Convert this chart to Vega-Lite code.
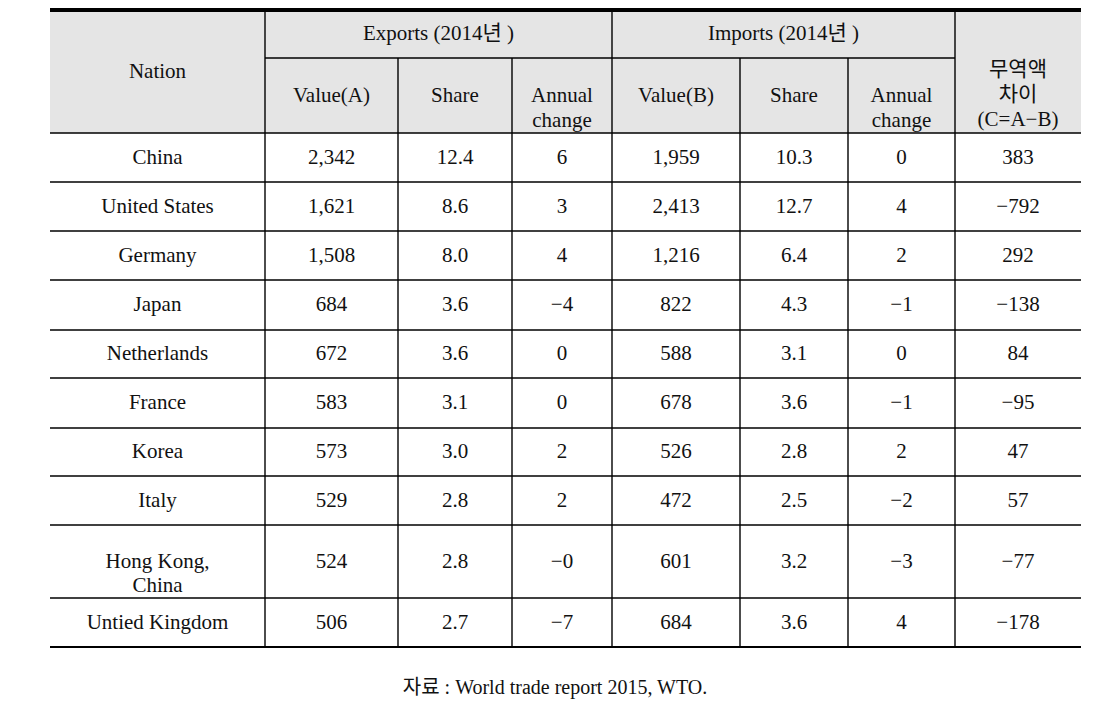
{
  "$schema": "https://vega.github.io/schema/vega-lite/v6.json",
  "width": 1110,
  "height": 715,
  "autosize": {"type": "none"},
  "padding": 0,
  "background": "white",
  "config": {
    "view": {"stroke": null},
    "axis": {"disable": true},
    "text": {"font": "Liberation Serif, Noto Sans CJK KR", "fontSize": 21, "fontWeight": "normal", "color": "#111", "align": "center", "baseline": "middle"},
    "rule": {"color": "#000", "strokeWidth": 1.4}
  },
  "data": {"values": [{}]},
  "layer": [
    {
      "mark": {"type": "rect", "fill": "#e5e5e5"},
      "encoding": {
        "x": {"datum": 0.5, "type": "quantitative", "scale": {"type": "linear", "domain": [0.5, 1, 1.5, 2, 2.5, 3, 3.5, 4, 4.5, 5, 5.5, 6, 6.5, 7, 7.5, 8, 8.5], "range": [50, 157.5, 265, 331.5, 398, 455, 512, 562, 612, 676, 740, 794, 848, 901.5, 955, 1018, 1081], "nice": false, "zero": false}},
        "x2": {"datum": 8.5},
        "y": {"datum": -1.5, "type": "quantitative", "scale": {"type": "linear", "domain": [-1.5, -1, -0.5, 0, 0.5, 1, 1.5, 2, 2.5, 3, 3.5, 4, 4.5, 5, 5.5, 6, 6.5, 7, 7.5, 8, 8.5, 9, 9.5, 10, 10.5], "range": [10, 34, 58, 95.5, 133, 157.5, 182, 206.5, 231, 255.5, 280, 305, 330, 354, 378, 403, 428, 452, 476, 500.5, 525, 561.5, 598, 622.5, 647], "nice": false, "zero": false}},
        "y2": {"datum": 0.5}
      }
    },
    {"mark": {"type": "rule", "strokeWidth": 4}, "encoding": {"x": {"datum": 0.5, "type": "quantitative"}, "x2": {"datum": 8.5}, "y": {"datum": -1.5, "type": "quantitative"}}},
    {"mark": "rule", "encoding": {"x": {"datum": 1.5, "type": "quantitative"}, "x2": {"datum": 7.5}, "y": {"datum": -0.5, "type": "quantitative"}}},
    {"mark": "rule", "encoding": {"x": {"datum": 0.5, "type": "quantitative"}, "x2": {"datum": 8.5}, "y": {"datum": 0.5, "type": "quantitative"}}},
    {"mark": "rule", "encoding": {"x": {"datum": 0.5, "type": "quantitative"}, "x2": {"datum": 8.5}, "y": {"datum": 1.5, "type": "quantitative"}}},
    {"mark": "rule", "encoding": {"x": {"datum": 0.5, "type": "quantitative"}, "x2": {"datum": 8.5}, "y": {"datum": 2.5, "type": "quantitative"}}},
    {"mark": "rule", "encoding": {"x": {"datum": 0.5, "type": "quantitative"}, "x2": {"datum": 8.5}, "y": {"datum": 3.5, "type": "quantitative"}}},
    {"mark": "rule", "encoding": {"x": {"datum": 0.5, "type": "quantitative"}, "x2": {"datum": 8.5}, "y": {"datum": 4.5, "type": "quantitative"}}},
    {"mark": "rule", "encoding": {"x": {"datum": 0.5, "type": "quantitative"}, "x2": {"datum": 8.5}, "y": {"datum": 5.5, "type": "quantitative"}}},
    {"mark": "rule", "encoding": {"x": {"datum": 0.5, "type": "quantitative"}, "x2": {"datum": 8.5}, "y": {"datum": 6.5, "type": "quantitative"}}},
    {"mark": "rule", "encoding": {"x": {"datum": 0.5, "type": "quantitative"}, "x2": {"datum": 8.5}, "y": {"datum": 7.5, "type": "quantitative"}}},
    {"mark": "rule", "encoding": {"x": {"datum": 0.5, "type": "quantitative"}, "x2": {"datum": 8.5}, "y": {"datum": 8.5, "type": "quantitative"}}},
    {"mark": "rule", "encoding": {"x": {"datum": 0.5, "type": "quantitative"}, "x2": {"datum": 8.5}, "y": {"datum": 9.5, "type": "quantitative"}}},
    {"mark": {"type": "rule", "strokeWidth": 1.8}, "encoding": {"x": {"datum": 0.5, "type": "quantitative"}, "x2": {"datum": 8.5}, "y": {"datum": 10.5, "type": "quantitative"}}},
    {"mark": "rule", "encoding": {"x": {"datum": 1.5, "type": "quantitative"}, "y": {"datum": -1.5, "type": "quantitative"}, "y2": {"datum": 10.5}}},
    {"mark": "rule", "encoding": {"x": {"datum": 4.5, "type": "quantitative"}, "y": {"datum": -1.5, "type": "quantitative"}, "y2": {"datum": 10.5}}},
    {"mark": "rule", "encoding": {"x": {"datum": 7.5, "type": "quantitative"}, "y": {"datum": -1.5, "type": "quantitative"}, "y2": {"datum": 10.5}}},
    {"mark": "rule", "encoding": {"x": {"datum": 2.5, "type": "quantitative"}, "y": {"datum": -0.5, "type": "quantitative"}, "y2": {"datum": 10.5}}},
    {"mark": "rule", "encoding": {"x": {"datum": 3.5, "type": "quantitative"}, "y": {"datum": -0.5, "type": "quantitative"}, "y2": {"datum": 10.5}}},
    {"mark": "rule", "encoding": {"x": {"datum": 5.5, "type": "quantitative"}, "y": {"datum": -0.5, "type": "quantitative"}, "y2": {"datum": 10.5}}},
    {"mark": "rule", "encoding": {"x": {"datum": 6.5, "type": "quantitative"}, "y": {"datum": -0.5, "type": "quantitative"}, "y2": {"datum": 10.5}}},
    {"mark": {"type": "text", "text": "Nation", "letterSpacing": 1.5}, "encoding": {"x": {"datum": 1, "type": "quantitative"}, "y": {"datum": -0.31, "type": "quantitative"}}},
    {"mark": {"type": "text", "text": "Exports (2014년 )", "letterSpacing": 1.5}, "encoding": {"x": {"datum": 2.855, "type": "quantitative"}, "y": {"datum": -1, "type": "quantitative"}}},
    {"mark": {"type": "text", "text": "Imports (2014년 )", "letterSpacing": 1.5}, "encoding": {"x": {"datum": 5.903, "type": "quantitative"}, "y": {"datum": -1, "type": "quantitative"}}},
    {"mark": {"type": "text", "text": ["무역액", "차이", "(C=A−B)"], "lineHeight": 25, "letterSpacing": 1}, "encoding": {"x": {"datum": 8, "type": "quantitative"}, "y": {"datum": -0.34, "type": "quantitative"}}},
    {"mark": {"type": "text", "text": "Value(A)", "letterSpacing": 1}, "encoding": {"x": {"datum": 2, "type": "quantitative"}, "y": {"datum": 0, "type": "quantitative"}}},
    {"mark": {"type": "text", "text": "Share", "letterSpacing": 1}, "encoding": {"x": {"datum": 3, "type": "quantitative"}, "y": {"datum": 0, "type": "quantitative"}}},
    {"mark": {"type": "text", "text": ["Annual", "change"], "lineHeight": 25, "letterSpacing": 1}, "encoding": {"x": {"datum": 4, "type": "quantitative"}, "y": {"datum": 0, "type": "quantitative"}}},
    {"mark": {"type": "text", "text": "Value(B)", "letterSpacing": 1}, "encoding": {"x": {"datum": 5, "type": "quantitative"}, "y": {"datum": 0, "type": "quantitative"}}},
    {"mark": {"type": "text", "text": "Share", "letterSpacing": 1}, "encoding": {"x": {"datum": 6, "type": "quantitative"}, "y": {"datum": 0, "type": "quantitative"}}},
    {"mark": {"type": "text", "text": ["Annual", "change"], "lineHeight": 25, "letterSpacing": 1}, "encoding": {"x": {"datum": 7, "type": "quantitative"}, "y": {"datum": 0, "type": "quantitative"}}},
    {"mark": {"type": "text", "text": "자료 : World trade report 2015, WTO.", "fontSize": 20, "letterSpacing": 2}, "encoding": {"x": {"datum": 3.93, "type": "quantitative"}, "y": {"datum": 11.34, "type": "quantitative"}}},
    {
      "data": {
        "values": [
          {"row": 1, "nation": "China", "expValue": 2342, "expShare": 12.4, "expChange": "6", "impValue": 1959, "impShare": 10.3, "impChange": "0", "balance": 383},
          {"row": 2, "nation": "United States", "expValue": 1621, "expShare": 8.6, "expChange": "3", "impValue": 2413, "impShare": 12.7, "impChange": "4", "balance": -792},
          {"row": 3, "nation": "Germany", "expValue": 1508, "expShare": 8.0, "expChange": "4", "impValue": 1216, "impShare": 6.4, "impChange": "2", "balance": 292},
          {"row": 4, "nation": "Japan", "expValue": 684, "expShare": 3.6, "expChange": "−4", "impValue": 822, "impShare": 4.3, "impChange": "−1", "balance": -138},
          {"row": 5, "nation": "Netherlands", "expValue": 672, "expShare": 3.6, "expChange": "0", "impValue": 588, "impShare": 3.1, "impChange": "0", "balance": 84},
          {"row": 6, "nation": "France", "expValue": 583, "expShare": 3.1, "expChange": "0", "impValue": 678, "impShare": 3.6, "impChange": "−1", "balance": -95},
          {"row": 7, "nation": "Korea", "expValue": 573, "expShare": 3.0, "expChange": "2", "impValue": 526, "impShare": 2.8, "impChange": "2", "balance": 47},
          {"row": 8, "nation": "Italy", "expValue": 529, "expShare": 2.8, "expChange": "2", "impValue": 472, "impShare": 2.5, "impChange": "−2", "balance": 57},
          {"row": 9, "nation": "Hong Kong,\nChina", "expValue": 524, "expShare": 2.8, "expChange": "−0", "impValue": 601, "impShare": 3.2, "impChange": "−3", "balance": -77},
          {"row": 10, "nation": "Untied Kingdom", "expValue": 506, "expShare": 2.7, "expChange": "−7", "impValue": 684, "impShare": 3.6, "impChange": "4", "balance": -178}
        ]
      },
      "layer": [
        {"mark": {"type": "text", "lineBreak": "\n", "lineHeight": 24, "letterSpacing": 1}, "encoding": {"x": {"datum": 1, "type": "quantitative"}, "y": {"field": "row", "type": "quantitative"}, "text": {"field": "nation", "type": "nominal"}}},
        {"mark": "text", "encoding": {"x": {"datum": 2, "type": "quantitative"}, "y": {"field": "row", "type": "quantitative"}, "text": {"field": "expValue", "type": "quantitative", "format": ","}}},
        {"mark": "text", "encoding": {"x": {"datum": 3, "type": "quantitative"}, "y": {"field": "row", "type": "quantitative"}, "text": {"field": "expShare", "type": "quantitative", "format": ".1f"}}},
        {"mark": "text", "encoding": {"x": {"datum": 4, "type": "quantitative"}, "y": {"field": "row", "type": "quantitative"}, "text": {"field": "expChange", "type": "nominal"}}},
        {"mark": "text", "encoding": {"x": {"datum": 5, "type": "quantitative"}, "y": {"field": "row", "type": "quantitative"}, "text": {"field": "impValue", "type": "quantitative", "format": ","}}},
        {"mark": "text", "encoding": {"x": {"datum": 6, "type": "quantitative"}, "y": {"field": "row", "type": "quantitative"}, "text": {"field": "impShare", "type": "quantitative", "format": ".1f"}}},
        {"mark": "text", "encoding": {"x": {"datum": 7, "type": "quantitative"}, "y": {"field": "row", "type": "quantitative"}, "text": {"field": "impChange", "type": "nominal"}}},
        {"mark": "text", "encoding": {"x": {"datum": 8, "type": "quantitative"}, "y": {"field": "row", "type": "quantitative"}, "text": {"field": "balance", "type": "quantitative", "format": "d"}}}
      ]
    }
  ]
}
